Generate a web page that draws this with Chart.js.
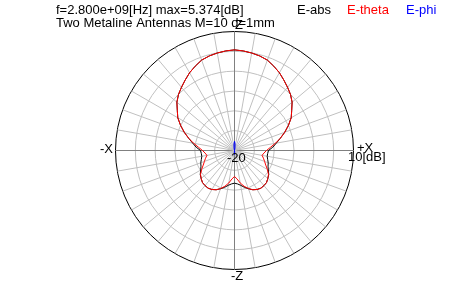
<!DOCTYPE html>
<html>
<head>
<meta charset="utf-8">
<script src="https://cdn.jsdelivr.net/npm/chart.js@4"></script>
<style>
  html, body { margin: 0; padding: 0; background: #fff; }
  #wrap { width: 450px; height: 300px; }
</style>
</head>
<body>
<div id="wrap"><canvas id="pattern" width="450" height="300"></canvas></div>
<script>
// angle categories (deg from +Z, clockwise towards +X)
const angles = [0, 5, 10, 15, 20, 25, 30, 35, 40, 45, 50, 55, 60, 65, 70, 75, 80, 85,
  90, 95, 100, 105, 110, 115, 120, 125, 130, 135, 140, 145, 150, 155, 160, 165, 170, 175,
  180, 185, 190, 195, 200, 205, 210, 215, 220, 225, 230, 235, 240, 245, 250, 255, 260, 265,
  270, 275, 280, 285, 290, 295, 300, 305, 310, 315, 320, 325, 330, 335, 340, 345, 350, 355];

// pattern values in dB
const eAbs = [5.37, 5.2, 4.96, 4.66, 4.25, 3.45, 2.64, 1.68, 0.8, -0.03, -1.04, -2.4, -3.49, -5.0, -6.51, -8.03, -9.3, -10.3,
  -11.43, -11.6, -11.63, -11.35, -10.95, -10.67, -10.17, -9.45, -9.03, -8.58, -8.45, -8.4, -8.65, -9.08, -9.75, -10.4, -11.1, -11.55,
  -11.76, -11.55, -11.1, -10.4, -9.75, -9.08, -8.65, -8.4, -8.45, -8.58, -9.03, -9.45, -10.17, -10.67, -10.95, -11.35, -11.63, -11.6,
  -11.43, -10.3, -9.3, -8.03, -6.51, -5.0, -3.49, -2.4, -1.04, -0.03, 0.8, 1.68, 2.64, 3.45, 4.25, 4.66, 4.96, 5.2];

const eTheta = [5.37, 5.2, 4.96, 4.66, 4.25, 3.45, 2.64, 1.68, 0.8, -0.03, -1.04, -2.4, -3.49, -5.0, -6.51, -8.03, -9.54, -10.92,
  -11.93, -12.56, -12.94, -12.44, -11.93, -11.3, -10.42, -9.54, -9.03, -8.58, -8.45, -8.4, -8.65, -9.08, -9.79, -10.67, -11.68, -12.82,
  -13.45, -12.82, -11.68, -10.67, -9.79, -9.08, -8.65, -8.4, -8.45, -8.58, -9.03, -9.54, -10.42, -11.3, -11.93, -12.44, -12.94, -12.56,
  -11.93, -10.92, -9.54, -8.03, -6.51, -5.0, -3.49, -2.4, -1.04, -0.03, 0.8, 1.68, 2.64, 3.45, 4.25, 4.66, 4.96, 5.2];

// E-phi sits at the bottom of the scale except a thin sliver along the Z axis
const ePhi = [-17.7, -18.4, -19.3, -20, -20, -20, -20, -20, -20, -20, -20, -20, -20, -20, -20, -20, -20, -20,
  -20, -20, -20, -20, -20, -20, -20, -20, -20, -20, -20, -20, -20, -20, -20, -20, -20, -19.4,
  -19.0, -19.4, -20, -20, -20, -20, -20, -20, -20, -20, -20, -20, -20, -20, -20, -20, -20, -20,
  -20, -20, -20, -20, -20, -20, -20, -20, -20, -20, -20, -20, -20, -20, -20, -20, -19.3, -18.4];

const rMin = -20;
const rMax = 10;
const rStep = 5;

const titleLines = ['f=2.800e+09[Hz] max=5.374[dB]', 'Two Metaline Antennas M=10 d=1mm'];
const legendNames = ['E-abs', 'E-theta', 'E-phi'];
const legendColors = ['#000000', '#ff0000', '#0000ff'];

// texts drawn over the plot: title, legend, axis names and the two scale labels
const labelPlugin = {
  id: 'patternLabels',
  afterDraw(chart) {
    const ctx = chart.ctx;
    ctx.save();
    ctx.font = '13px "Liberation Sans", Arial, sans-serif';
    ctx.textAlign = 'left';
    ctx.textBaseline = 'alphabetic';
    ctx.fillStyle = '#000';
    ctx.fillText(titleLines[0], 56, 13.5);
    ctx.fillText(titleLines[1], 56, 26.5);

    const legendX = [297, 347, 406];
    legendNames.forEach((name, i) => {
      ctx.fillStyle = legendColors[i];
      ctx.fillText(name, legendX[i], 13.5);
    });

    ctx.fillStyle = '#000';
    ctx.fillText('Z', 235, 29);
    ctx.fillText('-Z', 231, 280);
    ctx.fillText('-X', 100, 153);
    ctx.fillText('+X', 357, 152);
    ctx.fillText(String(rMin), 227, 161.5);
    ctx.fillText(rMax + '[dB]', 348, 161);
    ctx.restore();
  }
};

new Chart(document.getElementById('pattern'), {
  type: 'radar',
  data: {
    labels: angles,
    datasets: [
      { label: legendNames[0], data: eAbs, borderColor: legendColors[0], order: 3 },
      { label: legendNames[1], data: eTheta, borderColor: legendColors[1], order: 2 },
      { label: legendNames[2], data: ePhi, borderColor: legendColors[2], order: 1 }
    ]
  },
  options: {
    responsive: false,
    animation: false,
    events: [],
    elements: {
      line: { borderWidth: 1, fill: false, tension: 0 },
      point: { radius: 0, hoverRadius: 0 }
    },
    layout: { padding: 0 },
    plugins: {
      legend: { display: false },
      title: { display: false },
      tooltip: { enabled: false }
    },
    scales: {
      r: {
        min: rMin,
        max: rMax,
        ticks: { stepSize: rStep, display: false },
        pointLabels: { display: false },
        grid: {
          circular: true,
          lineWidth: 1,
          color: (c) => (c.tick && c.tick.value === rMax) ? '#000000' : '#c0c0c0'
        },
        angleLines: {
          display: true,
          // spokes every 10 deg, darker along the X and Z axes
          lineWidth: (c) => (c.index % 2 === 0 ? 1 : 0),
          color: (c) => (c.index % 18 === 0 ? '#808080' : '#c0c0c0')
        },
        afterFit: (scale) => {
          scale.xCenter = 234.5;
          scale.yCenter = 150.5;
          scale.drawingArea = 119;
        }
      }
    }
  },
  plugins: [labelPlugin]
});
</script>
</body>
</html>
